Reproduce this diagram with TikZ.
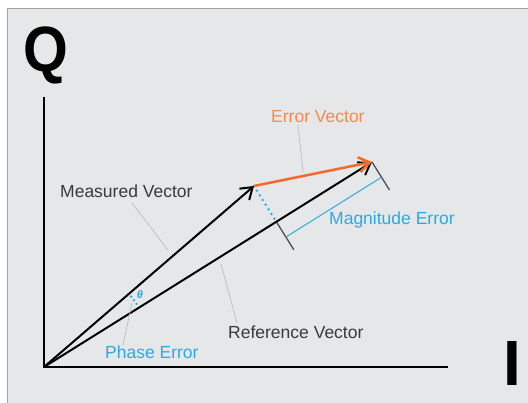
\documentclass[tikz,border=0pt]{standalone}
\usepackage{fontspec}
\setmainfont{Liberation Sans}
\usetikzlibrary{arrows.meta,calc}
\definecolor{bgc}{HTML}{E6E7E8}
\definecolor{framec}{HTML}{A3A3A3}
\definecolor{orangec}{HTML}{F26B2A}
\definecolor{orangetxt}{HTML}{F58A4E}
\definecolor{bluec}{HTML}{29ABE2}
\definecolor{leaderc}{HTML}{BDBDBD}
\definecolor{tickc}{HTML}{4D4D4D}
\definecolor{txtc}{HTML}{3A3A3A}
\tikzset{
  lbl/.style={inner sep=0pt, anchor=base west, font=\fontsize{17.5}{20}\selectfont, text=txtc},
  axis/.style={line width=2.5pt, line join=miter},
  vec/.style={line width=2pt, -{Straight Barb[length=11pt,width=15pt,line width=2pt]}},
  errvec/.style={line width=2.5pt, color=orangec, -{Straight Barb[length=11pt,width=15pt,line width=2.5pt]}},
  leader/.style={line width=0.7pt, leaderc},
  tickline/.style={line width=1.3pt, tickc},
  dotline/.style={bluec, line width=2.7pt, line cap=round, dash pattern=on 0pt off 5.5pt},
}
\begin{document}
\begin{tikzpicture}[x=1pt,y=1pt]
\useasboundingbox (0,0) rectangle (528,403);
% background
\fill[bgc] (7,0) rectangle (528,394);
\draw[framec, line width=1pt] (7,0) -- (7,394) -- (528,394);
% key points
\coordinate (O) at (44,36);
\coordinate (Ytop) at (44,306);
\coordinate (Xend) at (448,36);
\coordinate (M) at (254,217);
\coordinate (R) at (372,241);
\coordinate (P) at ($(O)!(M)!(R)$);
\coordinate (P2) at ($(P)!33pt!-90:(R)$);
\coordinate (R2) at ($(R)!33pt!90:(P)$);
\coordinate (B1) at ($(P)!18pt!-90:(R)$);
\coordinate (B2) at ($(R)!18pt!90:(P)$);
\coordinate (A1) at ($(O)!112pt!(R)$);
% axes
\draw[axis] (Ytop) -- (O) -- (Xend);
\node[inner sep=0pt, anchor=base west, font=\fontsize{64}{64}\selectfont\bfseries] (Qlab) at (23,331) {\scalebox{0.9}[1]{Q}};
\node[inner sep=0pt, anchor=base west, font=\fontsize{64}{64}\selectfont\bfseries] (Ilab) at (503,17) {I};
% magnitude error bracket
\draw[tickline] (P) -- (P2);
\draw[tickline] (R) -- (R2);
\draw[bluec, line width=1pt] (B1) -- (B2);
% dotted projection
\draw[dotline] (M) -- (P);
% phase arc
\draw[dotline, dash pattern=on 0pt off 4.5pt] (A1) arc[start angle=32.01, end angle=40.76, radius=112pt];
\node[inner sep=0pt, text=bluec, font=\fontsize{11}{11}\selectfont\bfseries\itshape] (theta) at (140,108) {θ};
% vectors
\draw[vec] (O) -- (M);
\draw[vec] (O) -- (R);
\draw[errvec] (M) -- (R);
% labels
\node[lbl] (mv) at (60,205) {Measured Vector};
\node[lbl, text=orangetxt] (ev) at (271,280) {Error Vector};
\node[lbl, text=bluec] (me) at (329,178) {Magnitude Error};
\node[lbl] (rv) at (228,64) {Reference Vector};
\node[lbl, text=bluec] (pe) at (105,44) {Phase Error};
% leaders
\coordinate (evL1) at (298,278);
\coordinate (evL2) at (303,231);
\coordinate (mvL1) at (132,200);
\coordinate (mvL2) at (168,153);
\coordinate (rvL1) at (237,80);
\coordinate (rvL2) at (221,139);
\coordinate (peL1) at (123,58);
\coordinate (peL2) at (132,100);
\draw[leader] (evL1) -- (evL2);
\draw[leader] (mvL1) -- (mvL2);
\draw[leader] (rvL1) -- (rvL2);
\draw[leader] (peL1) -- (peL2);
\end{tikzpicture}
\end{document}
